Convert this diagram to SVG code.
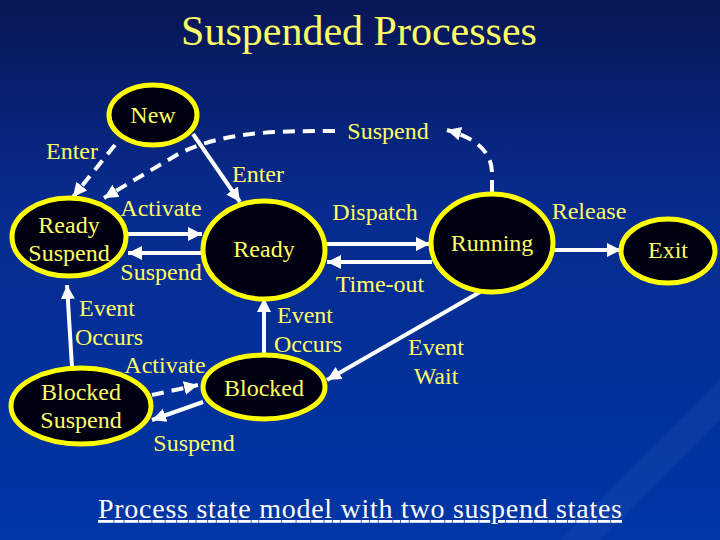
<svg xmlns="http://www.w3.org/2000/svg" width="720" height="540" viewBox="0 0 720 540">
  <defs>
    <linearGradient id="bg" x1="0" y1="0" x2="0" y2="1">
      <stop offset="0" stop-color="#081654"/>
      <stop offset="0.35" stop-color="#072a8c"/>
      <stop offset="1" stop-color="#0036a6"/>
    </linearGradient>
    <marker id="ah" markerUnits="userSpaceOnUse" markerWidth="16" markerHeight="16" refX="14" refY="7" orient="auto">
      <path d="M0,0 L14,7 L0,14 Z" fill="#ffffff"/>
    </marker>
    <style>
      text { font-family: "Liberation Serif", "DejaVu Serif", "Times New Roman", serif; }
      .node ellipse { fill: #000010; stroke: #ffff00; stroke-width: 5; }
      .nt { font-size: 24px; fill: #ffff66; text-anchor: middle; }
      .lb { font-size: 24px; fill: #ffff66; text-anchor: middle; }
      .ln { stroke: #ffffff; stroke-width: 4; fill: none; marker-end: url(#ah); }
      .dl { stroke: #ffffff; stroke-width: 4; fill: none; stroke-dasharray: 12 8; marker-end: url(#ah); }
    </style>
  </defs>
  <rect x="0" y="0" width="720" height="540" fill="url(#bg)"/>
  <polygon points="560,540 720,380 720,420 600,540" fill="#ffffff" opacity="0.04"/>

  <text x="359" y="45" font-size="42" fill="#ffff66" text-anchor="middle">Suspended Processes</text>

  <g id="connectors">
    <line class="dl" x1="115" y1="145" x2="73" y2="197"/>
    <path class="dl" d="M492,192 L492,172 Q491,142 447,130"/>
    <path class="dl" d="M335,131 C270,131 225,132 180,153 L104,198"/>
    <line class="ln" x1="193" y1="134" x2="240" y2="202"/>
    <line class="ln" x1="128" y1="234" x2="202" y2="234"/>
    <line class="ln" x1="202" y1="253" x2="128" y2="253"/>
    <line class="ln" x1="326" y1="244" x2="430" y2="244"/>
    <line class="ln" x1="432" y1="262" x2="327" y2="262"/>
    <line class="ln" x1="554" y1="250" x2="621" y2="250"/>
    <line class="ln" x1="480" y1="292" x2="327" y2="380"/>
    <line class="ln" x1="264" y1="355" x2="264" y2="298"/>
    <line class="ln" x1="72" y1="367" x2="67" y2="285"/>
    <line class="dl" x1="152" y1="395" x2="198" y2="385"/>
    <line class="ln" x1="203" y1="402" x2="152" y2="420"/>
  </g>

  <g id="node-new" class="node">
    <ellipse cx="153" cy="115" rx="44" ry="30"/>
    <text class="nt" x="153" y="123">New</text>
  </g>
  <g id="node-ready-suspend" class="node">
    <ellipse cx="69" cy="237" rx="57" ry="39"/>
    <text class="nt" x="69" y="233">Ready</text>
    <text class="nt" x="69" y="261">Suspend</text>
  </g>
  <g id="node-ready" class="node">
    <ellipse cx="264" cy="250" rx="61" ry="49"/>
    <text class="nt" x="264" y="257">Ready</text>
  </g>
  <g id="node-running" class="node">
    <ellipse cx="492" cy="243" rx="61" ry="49"/>
    <text class="nt" x="492" y="251">Running</text>
  </g>
  <g id="node-exit" class="node">
    <ellipse cx="668" cy="251" rx="47" ry="32"/>
    <text class="nt" x="668" y="258">Exit</text>
  </g>
  <g id="node-blocked-suspend" class="node">
    <ellipse cx="81" cy="406" rx="70" ry="38"/>
    <text class="nt" x="81" y="400">Blocked</text>
    <text class="nt" x="81" y="428">Suspend</text>
  </g>
  <g id="node-blocked" class="node">
    <ellipse cx="264" cy="387" rx="61" ry="32"/>
    <text class="nt" x="264" y="396">Blocked</text>
  </g>

  <g id="labels">
    <text class="lb" x="72" y="159">Enter</text>
    <text class="lb" x="258" y="182">Enter</text>
    <text class="lb" x="388" y="139">Suspend</text>
    <text class="lb" x="161" y="216">Activate</text>
    <text class="lb" x="161" y="280">Suspend</text>
    <text class="lb" x="375" y="220">Dispatch</text>
    <text class="lb" x="589" y="219">Release</text>
    <text class="lb" x="380" y="292">Time-out</text>
    <text class="lb" x="107" y="316">Event</text>
    <text class="lb" x="109" y="345">Occurs</text>
    <text class="lb" x="165" y="373">Activate</text>
    <text class="lb" x="194" y="451">Suspend</text>
    <text class="lb" x="305" y="323">Event</text>
    <text class="lb" x="308" y="352">Occurs</text>
    <text class="lb" x="436" y="355">Event</text>
    <text class="lb" x="436" y="384">Wait</text>
  </g>

  <text x="360" y="518" font-size="28" fill="#ffffff" text-anchor="middle" textLength="524" lengthAdjust="spacing" text-decoration="underline">Process state model with two suspend states</text>
</svg>
